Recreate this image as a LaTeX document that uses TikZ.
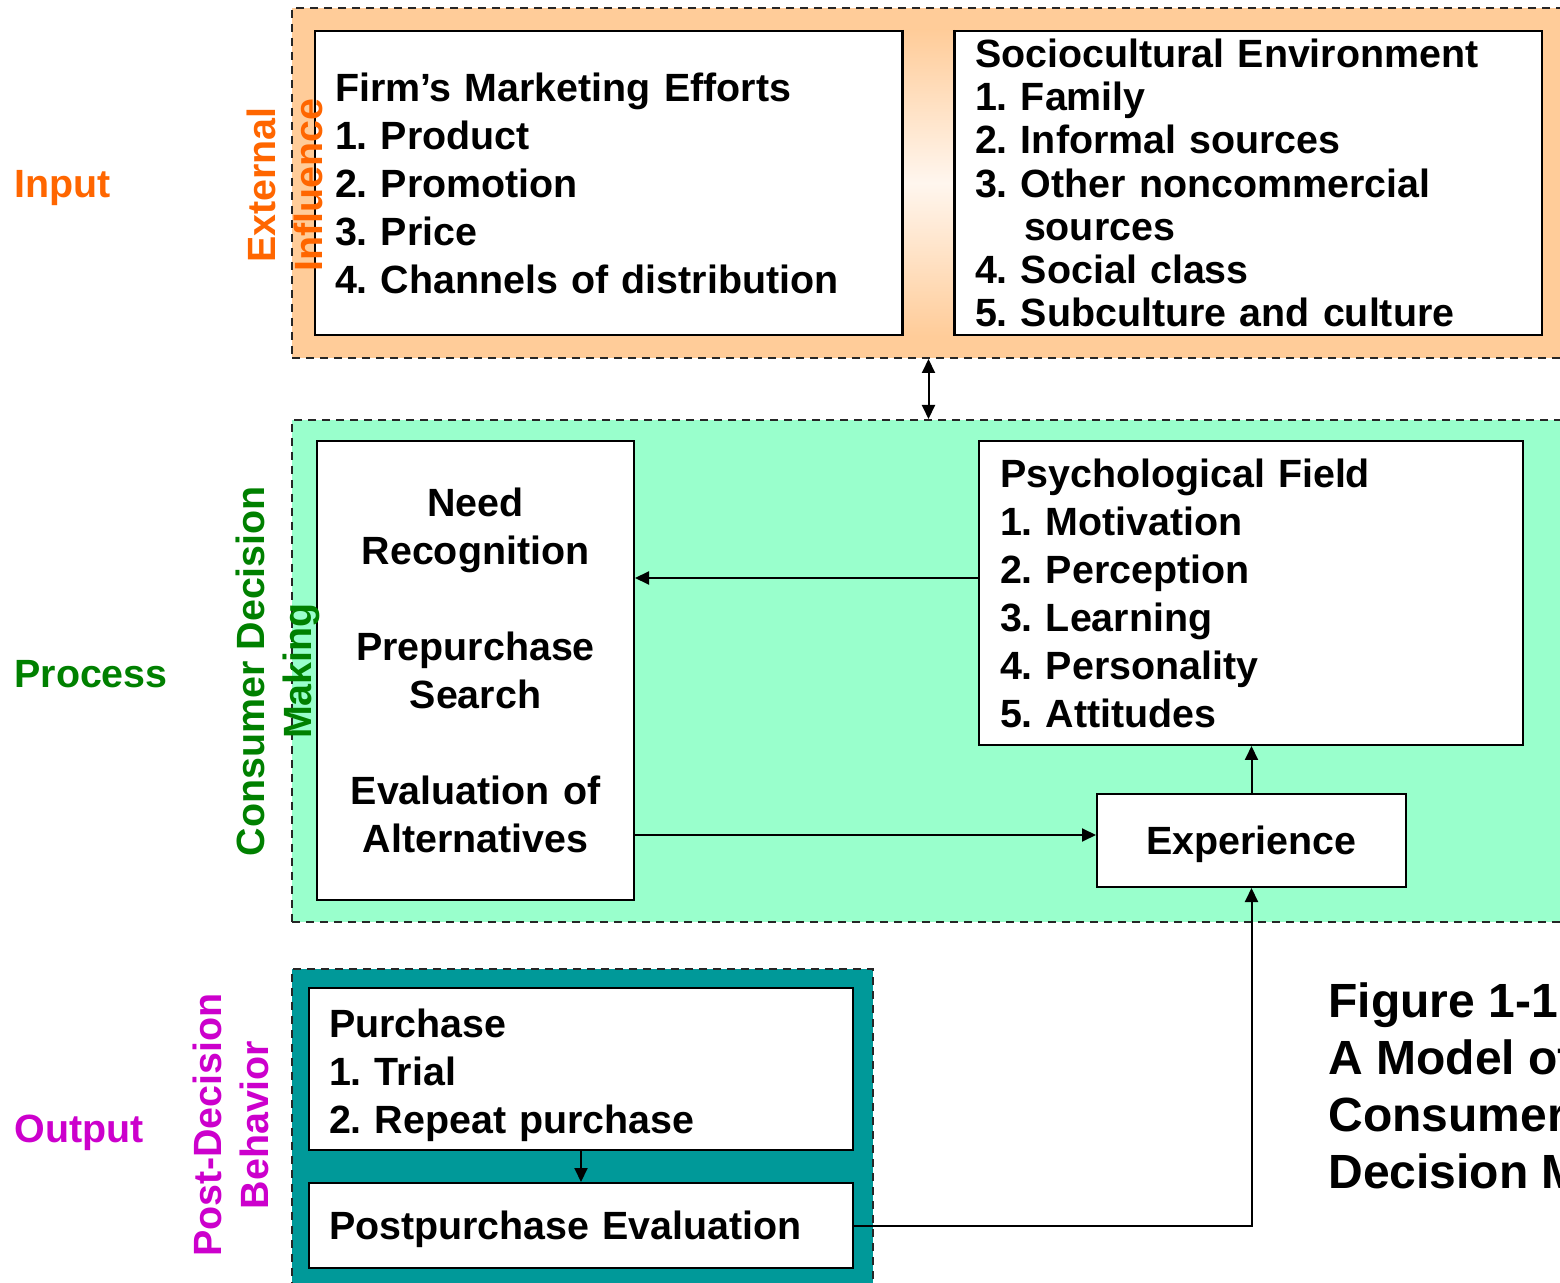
\documentclass[tikz,border=0pt]{standalone}
\usepackage{fontspec}
\setmainfont{Liberation Sans}
\frenchspacing
\usetikzlibrary{arrows.meta,fit,calc}
\definecolor{orngfill}{HTML}{FFCC99}
\definecolor{orngpale}{HTML}{FFF6EE}
\definecolor{greenfill}{HTML}{99FFCC}
\definecolor{tealfill}{HTML}{009999}
\definecolor{orngtext}{HTML}{FF6600}
\definecolor{greentext}{HTML}{008000}
\definecolor{magtext}{HTML}{CC00CC}
\tikzset{
  band/.style={draw=black!85, line width=1pt, dash pattern=on 4pt off 3pt, inner sep=0pt},
  box/.style={draw=black, line width=1pt, fill=white, inner ysep=0pt, inner xsep=10pt,
    font=\bfseries\fontsize{19.7}{24}\selectfont},
  listbox/.style={box, align=left},
  sidelabel/.style={font=\bfseries\fontsize{19.7}{24}\selectfont, inner sep=0pt, anchor=west},
  stagelabel/.style={font=\bfseries\fontsize{19.7}{23.5}\selectfont, inner sep=0pt,
    rotate=90, align=center},
  arr/.style={line width=1pt, -{Triangle[length=7pt,width=6.5pt]}},
  dblarr/.style={line width=1pt, {Triangle[length=7pt,width=6.5pt]}-{Triangle[length=7pt,width=6.5pt]}},
}
\begin{document}
\begin{tikzpicture}[x=0.5pt, y=-0.5pt]
\useasboundingbox (0,0) rectangle (1560,1283);
\clip (0,0) rectangle (1560,1283);

% stage bands
\node[band, fill=orngfill, fit={(292,8) (1600,358)}] (ext) {};
\node[band, fill=greenfill, fit={(292,420) (1600,922)}] (dec) {};
\node[band, fill=tealfill, fit={(292,969) (873,1300)}] (post) {};

% input boxes
\node[listbox, minimum width=293.5pt, minimum height=152pt, text width=273.5pt]
  (firm) at (608.5,183) {Firm’s Marketing Efforts\\1. Product\\2. Promotion\\3. Price\\4. Channels of distribution};
\node[listbox, minimum width=293.5pt, minimum height=152pt, text width=273.5pt,
  font=\bfseries\fontsize{19.7}{21.65}\selectfont]
  (socio) at (1248.5,183) {Sociocultural Environment\\1. Family\\2. Informal sources\\3. Other noncommercial\\\hspace*{24.5pt}sources\\4. Social class\\5. Subculture and culture};

% lighter gap between the input boxes
\shade[top color=orngfill, bottom color=orngfill, middle color=orngpale]
  (firm.north east) rectangle (socio.south west);
\draw[line width=1pt] (firm.north east) -- (firm.south east);
\draw[line width=1pt] (socio.north west) -- (socio.south west);
\coordinate (gapmid) at ($(firm.east)!0.5!(socio.west)$);

% process boxes
\node[box, align=center, minimum width=158.5pt, minimum height=229.5pt, text width=138.5pt]
  (need) at (475.5,670.5) {Need\\Recognition\\[24pt]Prepurchase\\Search\\[24pt]Evaluation of\\Alternatives};
\node[listbox, minimum width=272pt, minimum height=152pt, text width=251pt, inner xsep=10.5pt]
  (psych) at (1251,593) {Psychological Field\\1. Motivation\\2. Perception\\3. Learning\\4. Personality\\5. Attitudes};
\node[box, minimum width=154.5pt, minimum height=46.5pt, text depth=0pt] (exp) at (1251.5,840.5) {Experience};

% output boxes
\node[listbox, minimum width=272pt, minimum height=81pt, text width=252pt]
  (purch) at (581,1069) {\rule{0pt}{20.5pt}Purchase\\1. Trial\\2. Repeat purchase};
\node[box, minimum width=272pt, minimum height=42.5pt, text width=252pt, text depth=0pt]
  (eval) at (581,1225.5) {Postpurchase Evaluation};

% connectors
\draw[dblarr] (ext.south -| gapmid) -- (dec.north -| gapmid);
\draw[arr] ([yshift=7.5pt]psych.west) -- ([yshift=7.5pt]psych.west -| need.east);
\draw[arr] ([yshift=2.75pt]exp.west -| need.east) -- ([yshift=2.75pt]exp.west);
\draw[arr] (exp.north) -- (exp.north |- psych.south);
\draw[arr] (purch.south) -- (eval.north);
\draw[arr] (eval.east) -| (exp.south);

% stage labels
\node[sidelabel, text=orngtext] (lin) at (14,188) {Input};
\node[sidelabel, text=greentext] (lproc) at (14,674) {Process};
\node[sidelabel, text=magtext] (lout) at (14,1133) {Output};
\node[stagelabel, text=orngtext] (lext) at (284.5,185) {External\\Influence};
\node[stagelabel, text=greentext] (ldec) at (278,671) {Consumer Decision\\Making};
\node[stagelabel, text=magtext] (lpost) at (231,1125) {Post-Decision\\Behavior};

% caption
\node[anchor=west, inner sep=0pt, align=left, font=\bfseries\fontsize{24}{28.5}\selectfont]
  (cap) at (1328,1090.5) {Figure 1-1:\\A Model of\\Consumer\\Decision Making};
\end{tikzpicture}
\end{document}
